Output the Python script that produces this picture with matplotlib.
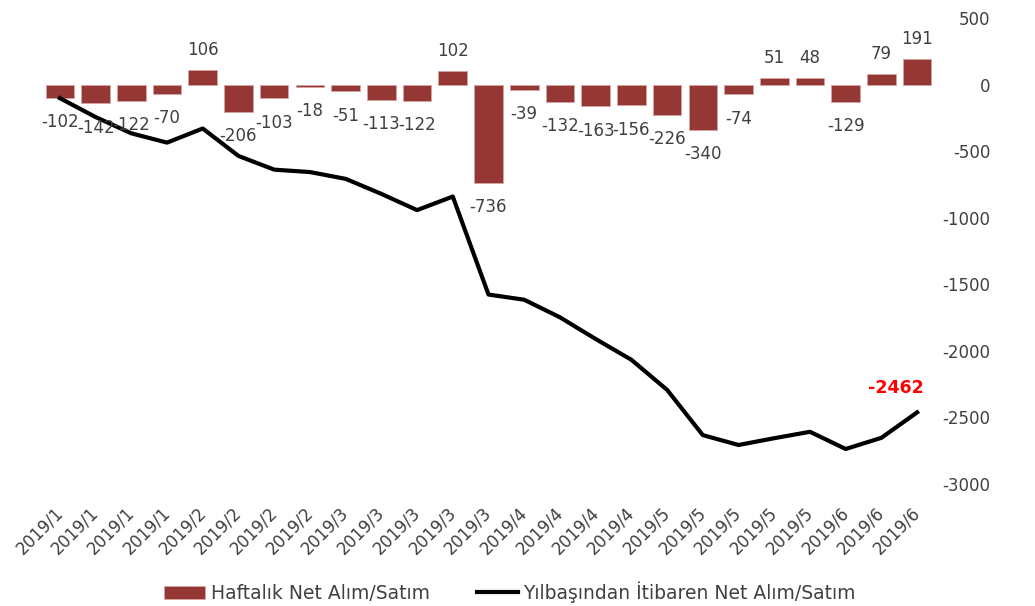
import matplotlib
matplotlib.use('Agg')
import matplotlib.pyplot as plt
import matplotlib.transforms as mtransforms
import numpy as np

# haftalik veriler
labels = ['2019/1'] * 4 + ['2019/2'] * 4 + ['2019/3'] * 5 + ['2019/4'] * 4 + ['2019/5'] * 5 + ['2019/6'] * 3
weekly = [-102, -142, -122, -70, 106, -206, -103, -18, -51, -113, -122, 102, -736,
          -39, -132, -163, -156, -226, -340, -74, 51, 48, -129, 79, 191]
cumulative = [-102, -244, -366, -436, -330, -536, -639, -657, -708, -821, -943, -841, -1577,
              -1616, -1748, -1911, -2067, -2293, -2633, -2707, -2656, -2608, -2737, -2653, -2462]
yticks = [500, 0, -500, -1000, -1500, -2000, -2500, -3000]

bar_name = 'Haftalık Net Alım/Satım'
line_name = 'Yılbaşından İtibaren Net Alım/Satım'

plt.rcParams['font.family'] = ['DejaVu Sans']
plt.rcParams['axes.unicode_minus'] = False
text_color = '#404040'
fs = 12

fig = plt.figure(figsize=(10.35, 6.06), dpi=100)
ax = fig.add_axes([42 / 1035, 1 - 484 / 606, (935 - 42) / 1035, (484 - 18) / 606])

x = np.arange(len(weekly))
bars = ax.bar(x, weekly, width=0.8, color='#953735', edgecolor='#d9a3a3', linewidth=0.6,
              label=bar_name, zorder=2)
line, = ax.plot(x, cumulative, color='black', linewidth=3, label=line_name, zorder=3)

for xi, v in zip(x, weekly):
    if v >= 0:
        ax.annotate(str(v), (xi, v), xytext=(0, 8), textcoords='offset points',
                    ha='center', va='bottom', fontsize=fs, color=text_color)
    else:
        ax.annotate(str(v), (xi, v), xytext=(0, -11), textcoords='offset points',
                    ha='center', va='top', fontsize=fs, color=text_color)

ax.annotate(str(cumulative[-1]), (x[-1], cumulative[-1]), xytext=(-15, 11),
            textcoords='offset points', ha='center', va='bottom',
            fontsize=12.5, fontweight='bold', color='red')

ax.set_xlim(-0.5, len(weekly) - 0.5)
ax.set_ylim(-3000, 500)
ax.set_yticks(yticks)
ax.yaxis.tick_right()
ax.set_xticks(x)
ax.set_xticklabels(labels, rotation=45, ha='right', va='top', rotation_mode='anchor')
ax.tick_params(axis='x', length=0, pad=14, labelsize=fs, labelcolor=text_color)
ax.tick_params(axis='y', length=0, pad=40, labelsize=fs, labelcolor=text_color)
for lbl in ax.get_yticklabels():
    lbl.set_ha('right')
shift = mtransforms.ScaledTranslation(-6 / 100, 0, fig.dpi_scale_trans)
for lbl in ax.get_xticklabels():
    lbl.set_transform(lbl.get_transform() + shift)
for s in ax.spines.values():
    s.set_visible(False)

fig.legend(handles=[bars, line], loc='center', bbox_to_anchor=(510 / 1035, 1 - 592 / 606), ncol=2,
           frameon=False, fontsize=13.5, labelcolor=text_color,
           handlelength=2.2, columnspacing=2.5, handletextpad=0.3)

fig.savefig('out.png', dpi=100)
